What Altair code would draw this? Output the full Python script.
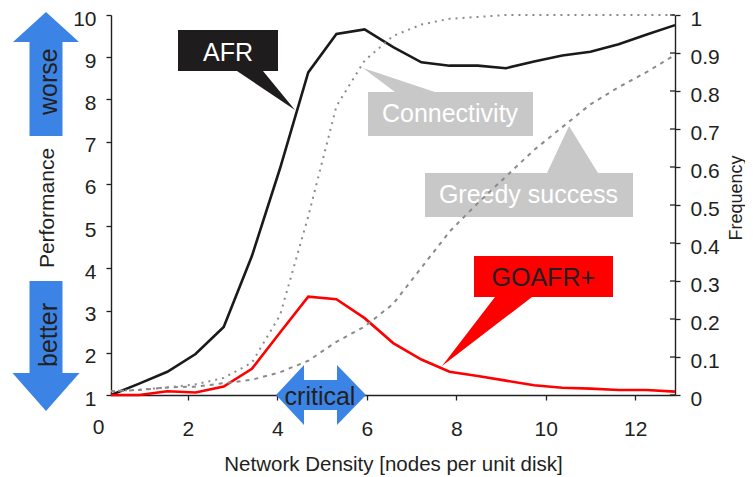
import altair as alt
import pandas as pd

# ---------------- data ----------------
density = [0.28, 0.91, 1.54, 2.17, 2.80, 3.43, 4.06, 4.69, 5.32, 5.95, 6.59,
           7.22, 7.85, 8.48, 9.11, 9.74, 10.37, 11.00, 11.63, 12.26, 12.89]
afr = [1.00, 1.27, 1.55, 1.97, 2.61, 4.29, 6.37, 8.64, 9.55, 9.66, 9.24,
       8.88, 8.80, 8.80, 8.74, 8.90, 9.04, 9.13, 9.31, 9.54, 9.76]
goafr = [1.00, 1.00, 1.09, 1.06, 1.20, 1.62, 2.48, 3.33, 3.27, 2.82, 2.23,
         1.84, 1.55, 1.45, 1.34, 1.23, 1.17, 1.15, 1.12, 1.12, 1.08]
connectivity = [0.010, 0.014, 0.020, 0.028, 0.045, 0.085, 0.21, 0.47, 0.76, 0.88, 0.945,
                0.975, 0.99, 0.995, 1.0, 1.0, 1.0, 1.0, 1.0, 1.0, 1.0]
greedy = [0.010, 0.013, 0.020, 0.022, 0.031, 0.040, 0.060, 0.090, 0.140, 0.180, 0.240,
          0.335, 0.430, 0.505, 0.575, 0.645, 0.705, 0.765, 0.810, 0.850, 0.895]

x_ticks = [2, 4, 6, 8, 10, 12]
perf_ticks = [1, 2, 3, 4, 5, 6, 7, 8, 9, 10]
freq_ticks = [0, 0.1, 0.2, 0.3, 0.4, 0.5, 0.6, 0.7, 0.8, 0.9, 1]
x_zero_label = [0]

df = pd.DataFrame({"density": density, "afr": afr, "goafr": goafr,
                   "connectivity": connectivity, "greedy": greedy})
zero_df = pd.DataFrame({"density": x_zero_label, "label": ["0"]})
freq_tick_df = pd.DataFrame({"freq": freq_ticks})
one = pd.DataFrame({"a": [0]})

FONT = "Liberation Sans"
INK = "#231f20"
BLUE = "#3b84e6"
GRAY_BOX = "#c8c8c8"
GRAY_LINE = "#8a8a8a"

W, H = 564, 380

xscale = alt.Scale(domain=[0.28, 12.89], nice=False, zero=False)
xaxis = alt.Axis(values=x_ticks, tickSize=5, labelPadding=18, labelFontSize=21,
                 title="Network Density [nodes per unit disk]", titleFontSize=20.5,
                 titleFontWeight="normal", titleX=282, titleY=75,
                 titleBaseline="alphabetic", titleAlign="center", grid=False)
X = alt.X("density:Q", scale=xscale, axis=xaxis)

perf_scale = alt.Scale(domain=[1, 10], nice=False, zero=False)
freq_scale = alt.Scale(domain=[0, 1], nice=False, zero=False)

left_axis = alt.Axis(values=perf_ticks, orient="left", tickSize=5, labelPadding=10,
                     labelOffset=4, labelFontSize=21, grid=False, title="Performance",
                     titleFontSize=21, titleFontWeight="normal", titleAngle=270,
                     titleX=-57.7, titleY=192.5, titleAlign="center",
                     titleBaseline="alphabetic")
right_axis = alt.Axis(values=freq_ticks, orient="right", tickSize=5, labelPadding=10,
                      labelOffset=4, labelFontSize=21, grid=False, format="~g",
                      title="Frequency", titleFontSize=18, titleFontWeight="normal",
                      titleAngle=270, titleX=66, titleY=182.5, titleAlign="center",
                      titleBaseline="alphabetic")


def poly(path, px, py, color):
    return alt.Chart(one).mark_point(shape=path, size=4, filled=True, fill=color,
                                     color=color, opacity=1, strokeWidth=0).encode(
        x=alt.value(px), y=alt.value(py))


def label(text, px, py, color, angle=0):
    return alt.Chart(one).mark_text(text=text, font=FONT, fontSize=25, color=color,
                                    align="center", baseline="alphabetic",
                                    angle=angle).encode(
        x=alt.value(px), y=alt.value(py))


# callout shapes (box + pointer) and arrows, paths in pixels around an anchor
callouts = [
    poly("M-50,-21L50,-21L50,20L35,20L67,59L9,20L-50,20Z", 117, 36, "#1f1c1d"),
    poly("M-82,-22L-55,-22L-87,-46L-15,-22L83,-22L83,22L-82,22Z", 339, 99, GRAY_BOX),
    poly("M-104,-22L18,-22L40,-69L69,-22L104,-22L104,22L-104,22Z", 418, 180, GRAY_BOX),
    poly("M-69.5,-20.5L69.5,-20.5L69.5,20.5L-11.5,20.5L-101.5,89.5L-48.5,20.5L-69.5,20.5Z",
         432.5, 261.5, "#ff0000"),
    label("AFR", 117, 46, "white"),
    label("Connectivity", 339, 107, "white"),
    label("Greedy success", 417.5, 188, "white"),
    label("GOAFR+", 432.3, 271, INK),
    poly("M0,-62L33,-32L16.5,-32L16.5,62L-16.5,62L-16.5,-32L-33,-32Z", -65, 59, BLUE),
    poly("M-16.5,-65L16.5,-65L16.5,27L33.5,27L0,65L-33.5,27L-16.5,27Z", -65, 331, BLUE),
    label("worse", -54.5, 66.7, INK, angle=270),
    label("better", -54.5, 320, INK, angle=270),
]

afr_line = alt.Chart(df).mark_line(color="#1a1a1a", strokeWidth=2.6).encode(
    x=X, y=alt.Y("afr:Q", scale=perf_scale, axis=left_axis))
goafr_line = alt.Chart(df).mark_line(color="#ff0000", strokeWidth=2.6).encode(
    x=X, y=alt.Y("goafr:Q", scale=perf_scale, axis=None))
conn_line = alt.Chart(df).mark_line(color=GRAY_LINE, strokeWidth=2, strokeDash=[2, 5]).encode(
    x=X, y=alt.Y("connectivity:Q", scale=freq_scale, axis=right_axis))
greedy_line = alt.Chart(df).mark_line(color=GRAY_LINE, strokeWidth=2, strokeDash=[4, 5]).encode(
    x=X, y=alt.Y("greedy:Q", scale=freq_scale, axis=None))

# inner half of the right-axis ticks (the reference's ticks cross the axis)
inner_ticks = alt.Chart(freq_tick_df).mark_rule(color=INK, strokeWidth=1.3).encode(
    x=alt.value(W - 5), x2=alt.value(W),
    y=alt.Y("freq:Q", scale=freq_scale, axis=None))

zero_text = alt.Chart(zero_df).mark_text(font=FONT, fontSize=21, color=INK,
                                         baseline="middle", align="center").encode(
    x=alt.X("density:Q", scale=xscale, axis=xaxis), y=alt.value(413), text="label:N")

critical = [
    poly("M-45,0L-17,-30L-17,-15L16,-15L16,-30L45,0L16,30L16,15L-17,15L-17,30Z", 210, 380, BLUE),
    label("critical", 209, 390, INK),
]

chart = alt.layer(
    *callouts, afr_line, goafr_line, conn_line, greedy_line, inner_ticks, zero_text, *critical
).resolve_scale(y="independent").properties(
    width=W, height=H,
    autosize=alt.AutoSizeParams(type="none"),
    padding={"left": 103, "top": 7, "right": 70, "bottom": 81},
).configure_axis(
    labelFont=FONT, titleFont=FONT, labelColor=INK, titleColor=INK,
    domainColor=INK, tickColor=INK, domainWidth=1.4, tickWidth=1.3,
).configure_view(stroke=None)

chart.save("out.html", embed_options={"renderer": "svg", "actions": False})
